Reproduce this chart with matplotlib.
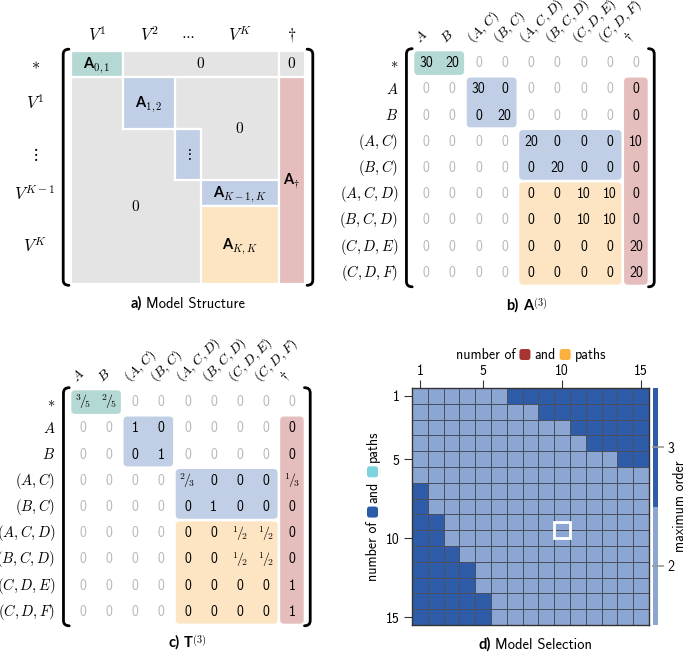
import matplotlib
matplotlib.use('Agg')
import matplotlib.pyplot as plt
from matplotlib.patches import Rectangle, Polygon, FancyBboxPatch, PathPatch
from matplotlib.path import Path
from matplotlib.transforms import IdentityTransform
from matplotlib.colors import ListedColormap, BoundaryNorm
import numpy as np

plt.rcParams['font.family'] = ['cmss10', 'DejaVu Sans']
plt.rcParams['mathtext.fontset'] = 'cm'
plt.rcParams['axes.unicode_minus'] = False

W, H = 685, 654
TEAL, BLUE, ORANGE, PINK, GRAY = '#b4d9d4', '#c1cfe6', '#fde5c3', '#e5bdbd', '#e4e4e4'
FADED = '#b8b8b8'
DARK, LIGHT, GRID = '#2e5ca8', '#8ca6d3', '#4b4f60'
BOLD = dict(family='Lato', weight='bold')

# ---- data ----
a_cols = [r'$V^1$', r'$V^2$', r'$\cdots$', r'$V^K$', r'$\dagger$']
a_rows = [r'$*$', r'$V^1$', r'$\vdots$', r'$V^{K-1}$', r'$V^K$']

states = [r'$A$', r'$B$', r'$(A,C)$', r'$(B,C)$', r'$(A,C,D)$',
          r'$(B,C,D)$', r'$(C,D,E)$', r'$(C,D,F)$']
b_rows = [r'$*$'] + states
b_cols = states + [r'$\dagger$']

A3 = [
    [30, 20, 0, 0, 0, 0, 0, 0, 0],
    [0, 0, 30, 0, 0, 0, 0, 0, 0],
    [0, 0, 0, 20, 0, 0, 0, 0, 0],
    [0, 0, 0, 0, 20, 0, 0, 0, 10],
    [0, 0, 0, 0, 0, 20, 0, 0, 0],
    [0, 0, 0, 0, 0, 0, 10, 10, 0],
    [0, 0, 0, 0, 0, 0, 10, 10, 0],
    [0, 0, 0, 0, 0, 0, 0, 0, 20],
    [0, 0, 0, 0, 0, 0, 0, 0, 20],
]
T3 = [
    ['3/5', '2/5', '0', '0', '0', '0', '0', '0', '0'],
    ['0', '0', '1', '0', '0', '0', '0', '0', '0'],
    ['0', '0', '0', '1', '0', '0', '0', '0', '0'],
    ['0', '0', '0', '0', '2/3', '0', '0', '0', '1/3'],
    ['0', '0', '0', '0', '0', '1', '0', '0', '0'],
    ['0', '0', '0', '0', '0', '0', '1/2', '1/2', '0'],
    ['0', '0', '0', '0', '0', '0', '1/2', '1/2', '0'],
    ['0', '0', '0', '0', '0', '0', '0', '0', '1'],
    ['0', '0', '0', '0', '0', '0', '0', '0', '1'],
]

# max order chosen, rows = number of blue/cyan paths, cols = number of red/orange paths
max_order = [
    [2, 2, 2, 2, 2, 2, 3, 3, 3, 3, 3, 3, 3, 3, 3],
    [2, 2, 2, 2, 2, 2, 2, 2, 3, 3, 3, 3, 3, 3, 3],
    [2, 2, 2, 2, 2, 2, 2, 2, 2, 2, 3, 3, 3, 3, 3],
    [2, 2, 2, 2, 2, 2, 2, 2, 2, 2, 2, 3, 3, 3, 3],
    [2, 2, 2, 2, 2, 2, 2, 2, 2, 2, 2, 2, 2, 3, 3],
    [2, 2, 2, 2, 2, 2, 2, 2, 2, 2, 2, 2, 2, 2, 2],
    [3, 2, 2, 2, 2, 2, 2, 2, 2, 2, 2, 2, 2, 2, 2],
    [3, 2, 2, 2, 2, 2, 2, 2, 2, 2, 2, 2, 2, 2, 2],
    [3, 3, 2, 2, 2, 2, 2, 2, 2, 2, 2, 2, 2, 2, 2],
    [3, 3, 2, 2, 2, 2, 2, 2, 2, 2, 2, 2, 2, 2, 2],
    [3, 3, 3, 2, 2, 2, 2, 2, 2, 2, 2, 2, 2, 2, 2],
    [3, 3, 3, 3, 2, 2, 2, 2, 2, 2, 2, 2, 2, 2, 2],
    [3, 3, 3, 3, 2, 2, 2, 2, 2, 2, 2, 2, 2, 2, 2],
    [3, 3, 3, 3, 3, 2, 2, 2, 2, 2, 2, 2, 2, 2, 2],
    [3, 3, 3, 3, 3, 2, 2, 2, 2, 2, 2, 2, 2, 2, 2],
]
selected = (10, 10)
ticks = [1, 5, 10, 15]

fig = plt.figure(figsize=(W / 100, H / 100), dpi=100)


def run(x, y, items, vertical=False, box=11):
    """Lay out text pieces and coloured squares one after another (pixel coords)."""
    r = fig.canvas.get_renderer()
    placed, total = [], 0
    for it in items:
        if it[0] == 'text':
            t = fig.text(0, 0, it[1], transform=IdentityTransform(),
                         rotation=90 if vertical else 0, rotation_mode='anchor',
                         ha='left', va='baseline', **it[2])
            e = t.get_window_extent(r)
            n = e.height if vertical else e.width
            placed.append(('text', t, n))
            total += n
        elif it[0] == 'box':
            placed.append(('box', it[1], box))
            total += box
        else:
            placed.append(('gap', None, it[1]))
            total += it[1]
    pos = (y if vertical else x) - total / 2
    for kind, obj, n in placed:
        if kind == 'text':
            obj.set_position((x, pos) if vertical else (pos, y))
        elif kind == 'box':
            xy = (x - box + 1, pos) if vertical else (pos, y - 1)
            fig.add_artist(FancyBboxPatch(xy, box, box, transform=IdentityTransform(),
                                          boxstyle='round,pad=0,rounding_size=2.5',
                                          fc=obj, ec='none'))
        pos += n


def at(ax, x, y):
    return ax.transData.transform((x, y))


def bracket(ax, x, y0, y1, d):
    s = 0.22 * d
    verts = [(x + s, y0), (x, y0), (x, y0 + 0.2), (x, y1 - 0.2), (x, y1), (x + s, y1)]
    codes = [Path.MOVETO, Path.CURVE3, Path.CURVE3, Path.LINETO, Path.CURVE3, Path.CURVE3]
    ax.add_patch(PathPatch(Path(verts, codes), fc='none', ec='black', lw=2,
                           capstyle='round', clip_on=False))


def caption(ax, cx, label, rest, dy=20):
    px, py = at(ax, cx, 9)
    run(px, py - dy - 4, [('text', label, dict(size=10.5, **BOLD)), ('gap', 4)] + rest)


# ---------- a) model structure ----------
axa = fig.add_axes([71 / W, 1 - 284 / H, 234 / W, 233 / H])
axa.set_xlim(0, 9)
axa.set_ylim(9, 0)
axa.axis('off')
edge = dict(ec='white', lw=1.6)
axa.add_patch(Polygon([(0, 1), (2, 1), (2, 3), (4, 3), (4, 5), (5, 5), (5, 9), (0, 9)], fc=GRAY, **edge))
axa.add_patch(Polygon([(4, 1), (8, 1), (8, 5), (5, 5), (5, 3), (4, 3)], fc=GRAY, **edge))
for (x0, y0, w, h, c) in [(0, 0, 2, 1, TEAL), (2, 0, 6, 1, GRAY), (8, 0, 1, 1, GRAY),
                          (2, 1, 2, 2, BLUE), (4, 3, 1, 2, BLUE), (5, 5, 3, 1, BLUE),
                          (5, 6, 3, 3, ORANGE), (8, 1, 1, 8, PINK)]:
    axa.add_patch(Rectangle((x0, y0), w, h, fc=c, **edge))
for x, lab in zip([1, 3, 4.5, 6.5, 8.5], a_cols):
    axa.text(x, -0.62, lab, ha='center', va='center', size=10 if lab == r'$\cdots$' else 12)
for y, lab in zip([0.5, 2, 4, 5.5, 7.5], a_rows):
    axa.text(-1.38, y, lab, ha='center', va='center', size=12)
for x, y in [(5, 0.5), (8.5, 0.5), (6.5, 3), (2.5, 6)]:
    axa.text(x, y, r'$0$', ha='center', va='center', size=11)
axa.text(4.5, 4, r'$\vdots$', ha='center', va='center', size=11)
for x, y, sub in [(1, 0.5, r'${}_{0,1}$'), (3, 2, r'${}_{1,2}$'), (6.5, 5.5, r'${}_{K-1,K}$'),
                  (6.5, 7.5, r'${}_{K,K}$'), (8.5, 5, r'${}_{\dagger}$')]:
    px, py = at(axa, x, y)
    run(px, py - 4, [('text', 'A', dict(size=10.5, **BOLD)), ('text', sub, dict(size=11))])
bracket(axa, -0.3, -0.07, 9.05, 1)
bracket(axa, 9.3, -0.07, 9.05, -1)
caption(axa, 4.5, 'a)', [('text', 'Model Structure', dict(size=10.5))])


# ---------- b) and c) matrices ----------
blocks = [(0, 1, 0, 2, TEAL), (1, 3, 2, 4, BLUE), (3, 5, 4, 8, BLUE),
          (5, 9, 4, 8, ORANGE), (1, 9, 8, 9, PINK)]


def cell_text(v):
    s = str(v)
    if '/' in s:
        n, d = s.split('/')
        return r'${}^{\mathsf{%s}}\!/\!{}_{\mathsf{%s}}$' % (n, d)
    return s


def matrix(rect, values):
    ax = fig.add_axes(rect)
    ax.set_xlim(0, 9)
    ax.set_ylim(9, 0)
    ax.axis('off')
    g = 0.05
    for r0, r1, c0, c1, col in blocks:
        ax.add_patch(FancyBboxPatch((c0 + g, r0 + g), c1 - c0 - 2 * g, r1 - r0 - 2 * g,
                                    boxstyle='round,pad=0,rounding_size=0.15',
                                    fc=col, ec='none'))
    for i, row in enumerate(values):
        for j, v in enumerate(row):
            inside = any(r0 <= i < r1 and c0 <= j < c1 for r0, r1, c0, c1, _ in blocks)
            ax.text(j + 0.5, i + 0.5, cell_text(v), ha='center', va='center', size=10,
                    color='black' if inside else FADED)
    for i, lab in enumerate(b_rows):
        ax.text(-0.57, i + 0.5, lab, ha='right', va='center', size=10.5)
    for j, lab in enumerate(b_cols):
        ax.text(j + 0.25, -0.25, lab, rotation=45, rotation_mode='anchor',
                ha='left', va='baseline', size=10)
    bracket(ax, -0.25, -0.05, 9.03, 1)
    bracket(ax, 9.2, -0.05, 9.03, -1)
    return ax


axb = matrix([413 / W, 1 - 286 / H, 236 / W, 236 / H], A3)
caption(axb, 4.35, 'b)', [('text', 'A', dict(size=10.5, **BOLD)),
                          ('text', r'${}^{(\mathsf{3})}$', dict(size=10.5))])
axc = matrix([70 / W, 1 - 625 / H, 235 / W, 236 / H], T3)
caption(axc, 4.5, 'c)', [('text', 'T', dict(size=10.5, **BOLD)),
                         ('text', r'${}^{(\mathsf{3})}$', dict(size=10.5))], dy=18)


# ---------- d) model selection ----------
axd = fig.add_axes([412 / W, 1 - 625 / H, 237 / W, 237 / H])
n = len(max_order)
edges = np.arange(0.5, n + 1, 1)
cmap = ListedColormap([LIGHT, DARK])
norm = BoundaryNorm([1.5, 2.5, 3.5], 2)
mesh = axd.pcolormesh(edges, edges, np.array(max_order), cmap=cmap, norm=norm,
                      edgecolors=GRID, linewidth=0.5)
axd.set_xlim(0.5, n + 0.5)
axd.set_ylim(n + 0.5, 0.5)
axd.xaxis.tick_top()
axd.set_xticks(ticks)
axd.set_yticks(ticks)
axd.tick_params(length=6, width=0.8, color='#333333', labelsize=10)
axd.tick_params(axis='x', pad=1)
axd.tick_params(axis='y', pad=3)
for s in axd.spines.values():
    s.set_color('#333333')
    s.set_linewidth(1)
axd.add_patch(Rectangle((selected[1] - 0.5, selected[0] - 1.0), 1, 1, fill=False,
                        ec='white', lw=2))

cax = fig.add_axes([653 / W, 1 - 625 / H, 5 / W, 237 / H])
cb = fig.colorbar(mesh, cax=cax, ticks=[2, 3])
cb.minorticks_off()
cb.outline.set_visible(False)
cax.tick_params(length=8, width=1.2, direction='inout', color='#999999', labelsize=10, pad=3)
cax.text(5.4, 0.5, 'maximum order', transform=cax.transAxes, rotation=90,
         ha='center', va='center', size=10)

lab = dict(size=10)
run(531, H - 355 - 4, [('text', 'number of', lab), ('gap', 4), ('box', '#a83434'), ('gap', 4),
                       ('text', 'and', lab), ('gap', 4), ('box', '#fbb13e'), ('gap', 4),
                       ('text', 'paths', lab)])
run(377, H - 506, [('text', 'number of', lab), ('gap', 4), ('box', DARK), ('gap', 4),
                   ('text', 'and', lab), ('gap', 4), ('box', '#7fd3dd'), ('gap', 4),
                   ('text', 'paths', lab)], vertical=True)
px, py = at(axd, 8.3, n + 0.5)
run(px, py - 20 - 4, [('text', 'd)', dict(size=10.5, **BOLD)), ('gap', 4),
                      ('text', 'Model Selection', dict(size=10.5))])

fig.savefig('out.png', dpi=100)
